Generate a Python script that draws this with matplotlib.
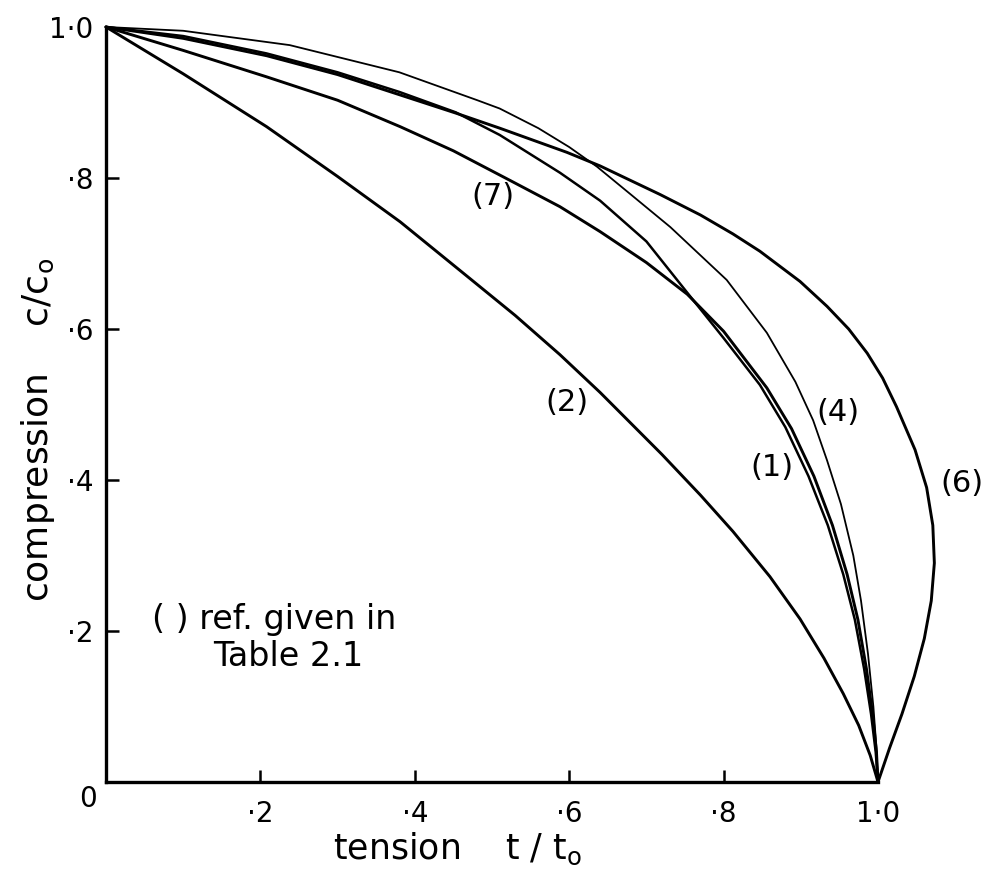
import matplotlib
matplotlib.use("Agg")
import matplotlib.pyplot as plt

# ==========================
# Interaction curves, compression vs tension
# ==========================
t_curve2 = [0.0, 0.10, 0.208, 0.30, 0.381, 0.47, 0.53, 0.588, 0.64, 0.72, 0.77, 0.812,
            0.86, 0.899, 0.93, 0.955, 0.975, 0.99, 1.0]
c_curve2 = [1.0, 0.938, 0.868, 0.802, 0.742, 0.668, 0.618, 0.566, 0.516, 0.434, 0.380, 0.332,
            0.272, 0.216, 0.164, 0.117, 0.075, 0.035, 0.0]

t_curve7 = [0.0, 0.10, 0.208, 0.30, 0.381, 0.45, 0.523, 0.588, 0.64, 0.70, 0.753, 0.80,
            0.856, 0.888, 0.917, 0.941, 0.960, 0.974, 0.985, 0.993, 0.998, 1.0]
c_curve7 = [1.0, 0.969, 0.934, 0.903, 0.868, 0.836, 0.797, 0.762, 0.729, 0.688, 0.646, 0.597,
            0.522, 0.468, 0.405, 0.340, 0.275, 0.215, 0.150, 0.090, 0.040, 0.0]

t_curve1 = [0.0, 0.10, 0.208, 0.30, 0.38, 0.453, 0.51, 0.588, 0.64, 0.70, 0.753, 0.80,
            0.847, 0.88, 0.91, 0.935, 0.955, 0.970, 0.982, 0.991, 0.997, 1.0]
c_curve1 = [1.0, 0.988, 0.965, 0.940, 0.914, 0.887, 0.857, 0.807, 0.770, 0.716, 0.648, 0.588,
            0.526, 0.470, 0.405, 0.340, 0.275, 0.215, 0.150, 0.090, 0.040, 0.0]

t_curve4 = [0.0, 0.10, 0.238, 0.38, 0.481, 0.51, 0.56, 0.60, 0.636, 0.68, 0.731, 0.804,
            0.856, 0.893, 0.916, 0.934, 0.952, 0.968, 0.978, 0.987, 0.994, 0.998, 1.0]
c_curve4 = [1.0, 0.995, 0.976, 0.940, 0.903, 0.892, 0.866, 0.841, 0.815, 0.778, 0.735, 0.665,
            0.595, 0.530, 0.479, 0.426, 0.368, 0.300, 0.240, 0.170, 0.100, 0.045, 0.0]

t_curve6 = [0.0, 0.10, 0.208, 0.30, 0.381, 0.453, 0.51, 0.597, 0.64, 0.718, 0.77, 0.812,
            0.847, 0.899, 0.934, 0.962, 0.986, 1.006, 1.024, 1.048, 1.063, 1.071, 1.073,
            1.069, 1.060, 1.047, 1.031, 1.015, 1.0]
c_curve6 = [1.0, 0.985, 0.962, 0.937, 0.910, 0.886, 0.866, 0.834, 0.816, 0.778, 0.751, 0.726,
            0.703, 0.663, 0.630, 0.600, 0.568, 0.535, 0.497, 0.440, 0.390, 0.340, 0.290,
            0.240, 0.190, 0.140, 0.090, 0.045, 0.0]

# curve label text and where it sits (t, c)
curve_tags = ["(7)", "(2)", "(4)", "(1)", "(6)"]
tag_t = [0.501, 0.597, 0.948, 0.863, 1.109]
tag_c = [0.775, 0.503, 0.489, 0.417, 0.396]

tick_vals = [0.2, 0.4, 0.6, 0.8, 1.0]
tick_text = ["·2", "·4", "·6", "·8", "1·0"]

# ==========================
# Figure
# ==========================
W, H = 999, 880
fig = plt.figure(figsize=(W / 100, H / 100), dpi=100)
ax = fig.add_axes([106 / W, 1 - 782 / H, 772 / W, 755 / H])

thick = 2.1
line_kw = dict(color="black", clip_on=False, solid_joinstyle="round", solid_capstyle="round")
ax.plot(t_curve2, c_curve2, lw=thick, **line_kw)
ax.plot(t_curve7, c_curve7, lw=thick, **line_kw)
ax.plot(t_curve1, c_curve1, lw=1.8, **line_kw)
ax.plot(t_curve4, c_curve4, lw=1.3, **line_kw)
ax.plot(t_curve6, c_curve6, lw=thick, **line_kw)

for tag, x, y in zip(curve_tags, tag_t, tag_c):
    ax.text(x, y, tag, ha="center", va="center", fontsize=22)

ax.set_xlim(0, 1.0)
ax.set_ylim(0, 1.0)
for side in ("top", "right"):
    ax.spines[side].set_visible(False)
for side in ("left", "bottom"):
    ax.spines[side].set_linewidth(2.4)

ax.set_xticks(tick_vals, tick_text)
ax.set_yticks(tick_vals, tick_text)
ax.tick_params(direction="in", length=9, width=1.8, labelsize=20)
ax.tick_params(axis="x", pad=13)
ax.tick_params(axis="y", pad=9)
# no tick mark at the far ends, only the label
ax.xaxis.get_major_ticks()[-1].tick1line.set_visible(False)
ax.yaxis.get_major_ticks()[-1].tick1line.set_visible(False)

ax.text(-0.023, -0.022, "0", ha="center", va="center", fontsize=20, clip_on=False)

ax.set_xlabel("tension    t / t$_\\mathregular{o}$", fontsize=25)
ax.xaxis.set_label_coords(0.455, -0.064)
ax.set_ylabel("compression    c/c$_\\mathregular{o}$", fontsize=26)
ax.yaxis.set_label_coords(-0.064, 0.466)

ax.text(0.060, 0.215, "( ) ref. given in", ha="left", va="center", fontsize=24)
ax.text(0.139, 0.166, "Table 2.1", ha="left", va="center", fontsize=24)

fig.savefig("out.png", dpi=100)
